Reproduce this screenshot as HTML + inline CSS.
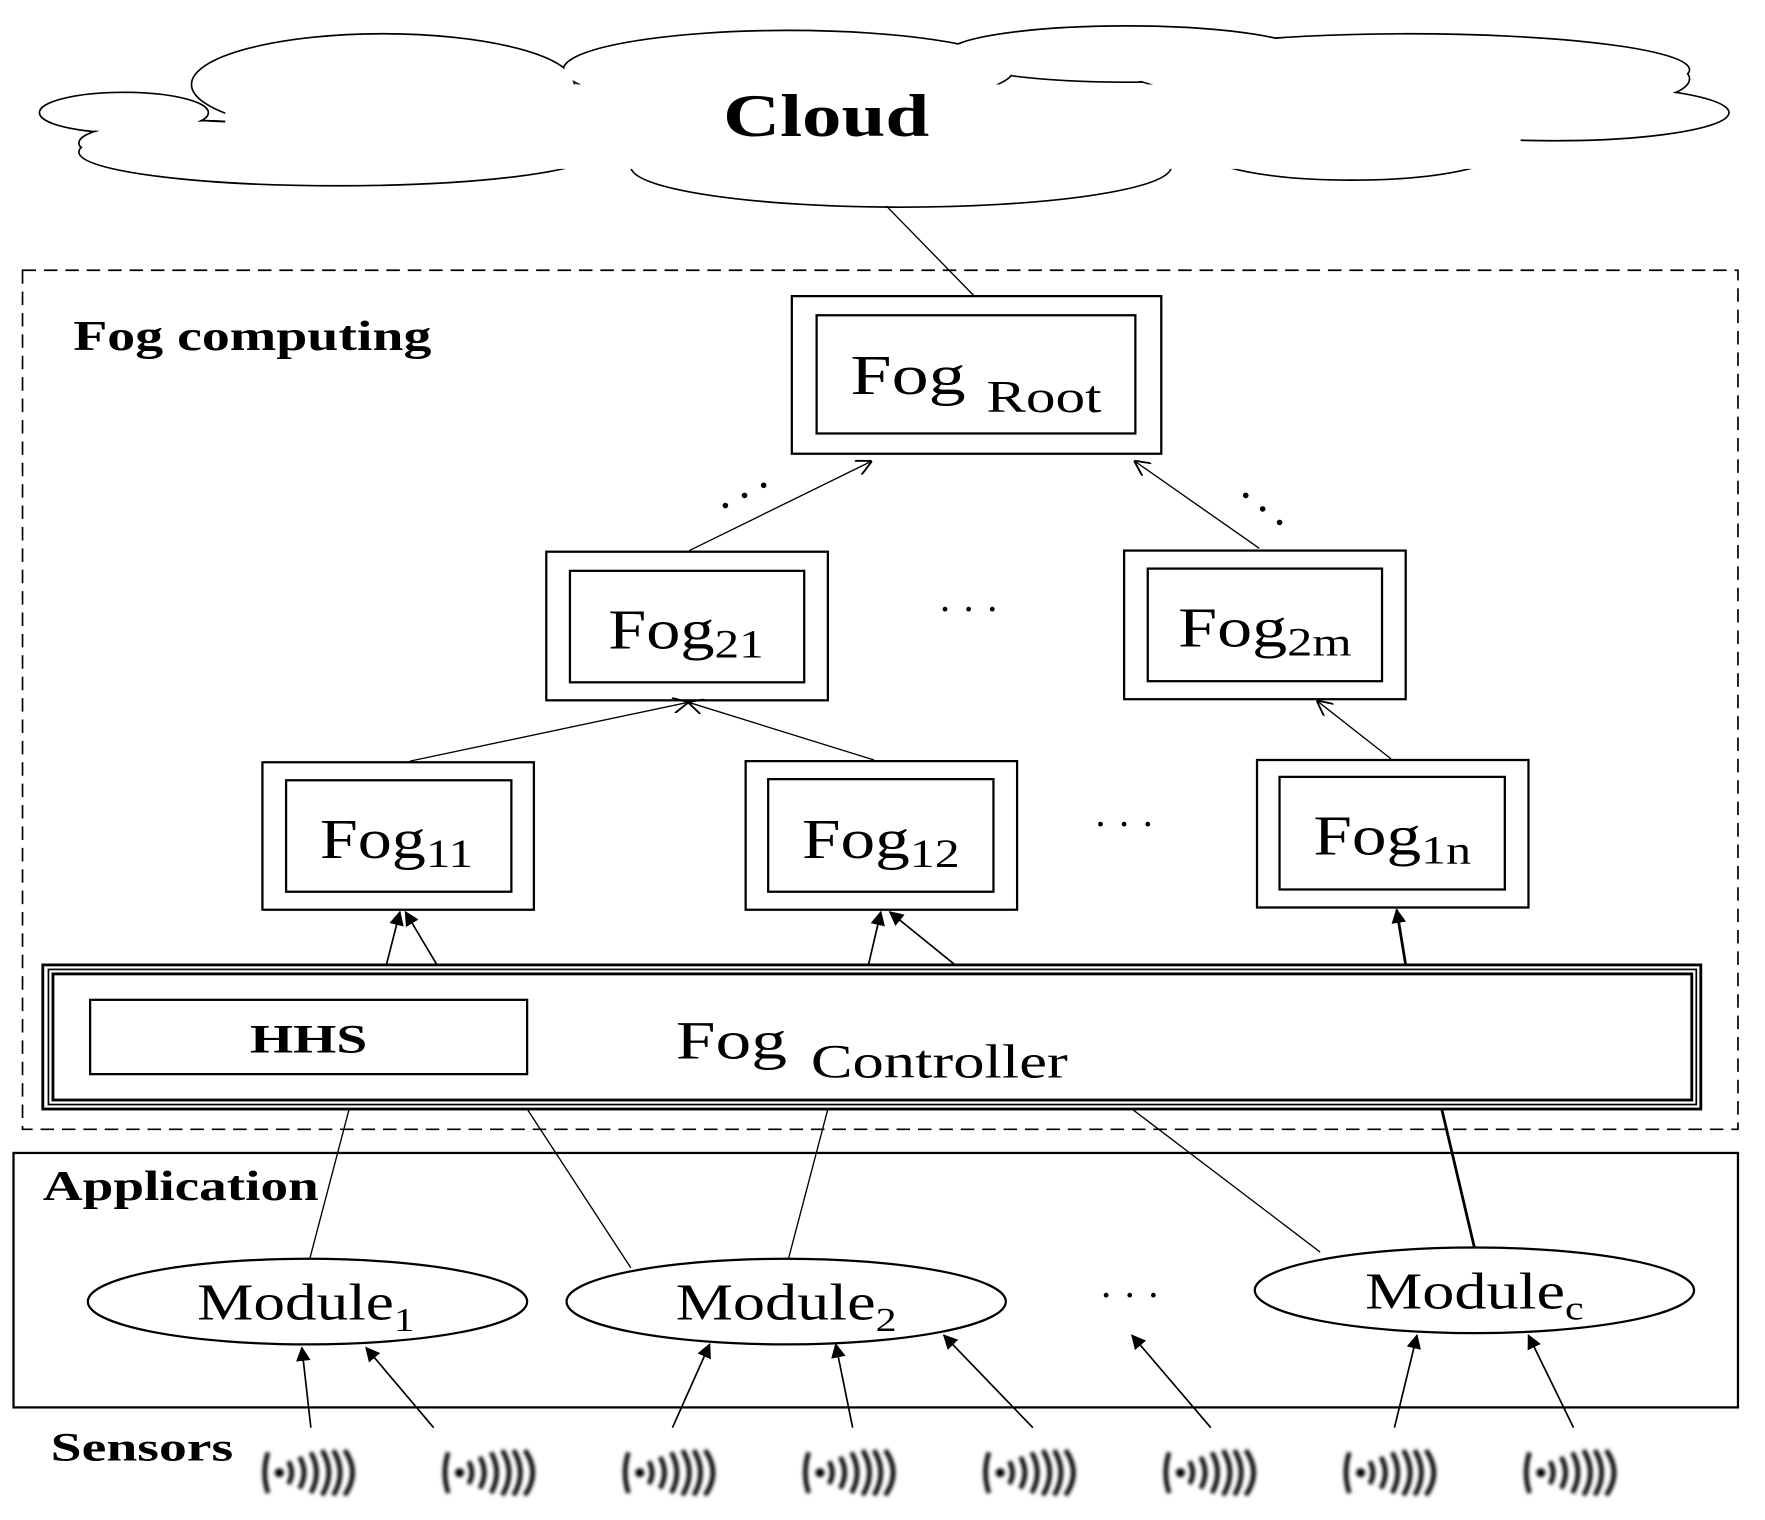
<!DOCTYPE html>
<html><head><meta charset="utf-8"><style>
html,body{margin:0;padding:0;background:#fff;}
svg{display:block;}
text{font-family:"Liberation Serif",serif;fill:#000;}
</style></head><body>
<svg width="1765" height="1520" viewBox="0 0 1567 1350" preserveAspectRatio="none" xmlns="http://www.w3.org/2000/svg">
<defs>
<marker id="a" viewBox="0 0 10 10" refX="9" refY="5" markerWidth="14" markerHeight="14" markerUnits="userSpaceOnUse" orient="auto"><path d="M0,0 L10,5 L0,10" fill="none" stroke="#000" stroke-width="1.2"/></marker>
<marker id="f" viewBox="0 0 10 10" refX="9" refY="5" markerWidth="13" markerHeight="13" markerUnits="userSpaceOnUse" orient="auto"><path d="M0,0 L10,5 L0,10 z" fill="#000"/></marker>
<filter id="bl"><feGaussianBlur stdDeviation="1.6"/></filter>
</defs>
<!-- cloud -->
<g stroke="#000" stroke-width="1.5" fill="none">
<ellipse cx="110" cy="100" rx="75" ry="18"/><ellipse cx="340" cy="75" rx="170" ry="45"/><ellipse cx="700" cy="62" rx="200" ry="35"/><ellipse cx="1000" cy="48" rx="160" ry="25"/><ellipse cx="1250" cy="62" rx="250" ry="32"/><ellipse cx="1380" cy="100" rx="155" ry="25"/><ellipse cx="1200" cy="135" rx="130" ry="25"/><ellipse cx="800" cy="148" rx="240" ry="36"/><ellipse cx="300" cy="135" rx="230" ry="30"/><ellipse cx="170" cy="127" rx="100" ry="20"/><ellipse cx="1440" cy="70" rx="60" ry="20"/>
</g>
<g fill="#fff">
<ellipse cx="110" cy="100" rx="74" ry="17"/><ellipse cx="340" cy="75" rx="169" ry="44"/><ellipse cx="700" cy="62" rx="199" ry="34"/><ellipse cx="1000" cy="48" rx="159" ry="24"/><ellipse cx="1250" cy="62" rx="249" ry="31"/><ellipse cx="1380" cy="100" rx="154" ry="24"/><ellipse cx="1200" cy="135" rx="129" ry="24"/><ellipse cx="800" cy="148" rx="239" ry="35"/><ellipse cx="300" cy="135" rx="229" ry="29"/><ellipse cx="170" cy="127" rx="99" ry="19"/><ellipse cx="1440" cy="70" rx="59" ry="19"/>
<rect x="200" y="75" width="1150" height="75"/>
</g>
<text x="642" y="121" font-size="54" font-weight="bold" textLength="183" lengthAdjust="spacingAndGlyphs">Cloud</text>
<line x1="787" y1="183" x2="865" y2="263" stroke="#000" stroke-width="1.2"/>
<!-- fog computing -->
<rect x="20" y="240" width="1523" height="763" fill="none" stroke="#000" stroke-width="1.5" stroke-dasharray="12,7"/>
<text x="65" y="311" font-size="38" font-weight="bold" textLength="318" lengthAdjust="spacingAndGlyphs">Fog computing</text>
<g fill="none" stroke="#000" stroke-width="2">
<rect x="703" y="263" width="328" height="140"/><rect x="725" y="280" width="283" height="105"/>
<rect x="485" y="490" width="250" height="132"/><rect x="506" y="507" width="208" height="99"/>
<rect x="998" y="489" width="250" height="132"/><rect x="1019" y="505" width="208" height="100"/>
<rect x="233" y="677" width="241" height="131"/><rect x="254" y="693" width="200" height="99"/>
<rect x="662" y="676" width="241" height="132"/><rect x="682" y="692" width="200" height="100"/>
<rect x="1116" y="675" width="241" height="131"/><rect x="1136" y="690" width="200" height="100"/>
<rect x="38" y="857" width="1472" height="128" stroke-width="2.5"/><rect x="43" y="861" width="1463" height="120" stroke-width="1.5"/><rect x="47" y="865" width="1455" height="112" stroke-width="2.5"/>
<rect x="80" y="888" width="388" height="66"/>
</g>
<text x="755" y="350" font-size="50" textLength="223" lengthAdjust="spacingAndGlyphs">Fog<tspan font-size="40" dx="14" dy="16">Root</tspan></text>
<text x="540" y="576" font-size="50" textLength="138" lengthAdjust="spacingAndGlyphs">Fog<tspan font-size="36" dy="8">21</tspan></text>
<text x="1046" y="574" font-size="50" textLength="154" lengthAdjust="spacingAndGlyphs">Fog<tspan font-size="36" dy="8">2m</tspan></text>
<text x="284" y="762" font-size="50" textLength="136" lengthAdjust="spacingAndGlyphs">Fog<tspan font-size="36" dy="8">11</tspan></text>
<text x="712" y="762" font-size="50" textLength="140" lengthAdjust="spacingAndGlyphs">Fog<tspan font-size="36" dy="8">12</tspan></text>
<text x="1166" y="759" font-size="50" textLength="140" lengthAdjust="spacingAndGlyphs">Fog<tspan font-size="36" dy="8">1n</tspan></text>
<text x="222" y="935" font-size="36" font-weight="bold" textLength="104" lengthAdjust="spacingAndGlyphs">HHS</text>
<text x="600" y="940" font-size="48" textLength="348" lengthAdjust="spacingAndGlyphs">Fog<tspan font-size="42" dx="16" dy="17">Controller</tspan></text>
<g font-size="36" text-anchor="middle">
<text x="860" y="553">· · ·</text><text x="998" y="744">· · ·</text><text x="1003" y="1162">· · ·</text>
</g>
<g fill="#000"><circle cx="644" cy="449" r="2.5"/><circle cx="661" cy="440" r="2.5"/><circle cx="678" cy="431" r="2.5"/>
<circle cx="1106" cy="440" r="2.5"/><circle cx="1121" cy="452" r="2.5"/><circle cx="1136" cy="464" r="2.5"/></g>
<!-- arrows -->
<g stroke="#000" stroke-width="1.2" fill="none" marker-end="url(#a)">
<line x1="612" y1="489" x2="773" y2="410"/>
<line x1="1118" y1="487" x2="1008" y2="410"/>
<line x1="364" y1="676" x2="610" y2="624"/>
<line x1="776" y1="675" x2="612" y2="624"/>
<line x1="1235" y1="674" x2="1170" y2="623"/>
</g>
<g stroke="#000" stroke-width="1.5" fill="none" marker-end="url(#f)">
<line x1="343" y1="857" x2="355" y2="810"/><line x1="388" y1="857" x2="360" y2="810"/>
<line x1="771" y1="857" x2="782" y2="810"/><line x1="848" y1="857" x2="790" y2="810"/>
<line x1="1248" y1="857" x2="1240" y2="808" stroke-width="2.5"/>
</g>
<!-- application -->
<rect x="12" y="1024" width="1531" height="226" fill="none" stroke="#000" stroke-width="2"/>
<text x="38" y="1066" font-size="38" font-weight="bold" textLength="245" lengthAdjust="spacingAndGlyphs">Application</text>
<g stroke="#000" stroke-width="1.2">
<line x1="310" y1="985" x2="275" y2="1118"/>
<line x1="468" y1="985" x2="560" y2="1126"/>
<line x1="735" y1="985" x2="700" y2="1118"/>
<line x1="1005" y1="985" x2="1172" y2="1112"/>
<line x1="1280" y1="985" x2="1309" y2="1108" stroke-width="2.5"/>
</g>
<g fill="#fff" stroke="#000" stroke-width="2">
<ellipse cx="273" cy="1156" rx="195" ry="38"/><ellipse cx="698" cy="1156" rx="195" ry="38"/><ellipse cx="1309" cy="1146" rx="195" ry="38"/>
</g>
<text x="175" y="1172" font-size="46" textLength="193" lengthAdjust="spacingAndGlyphs">Module<tspan font-size="30" dy="10">1</tspan></text>
<text x="600" y="1172" font-size="46" textLength="196" lengthAdjust="spacingAndGlyphs">Module<tspan font-size="30" dy="10">2</tspan></text>
<text x="1212" y="1162" font-size="46" textLength="194" lengthAdjust="spacingAndGlyphs">Module<tspan font-size="30" dy="10">c</tspan></text>
<g stroke="#000" stroke-width="1.5" fill="none" marker-end="url(#f)">
<line x1="276" y1="1268" x2="268" y2="1197"/><line x1="385" y1="1268" x2="325" y2="1197"/>
<line x1="597" y1="1268" x2="630" y2="1194"/><line x1="757" y1="1268" x2="742" y2="1194"/>
<line x1="917" y1="1268" x2="838" y2="1186"/><line x1="1075" y1="1268" x2="1005" y2="1186"/>
<line x1="1238" y1="1268" x2="1258" y2="1186"/><line x1="1397" y1="1268" x2="1357" y2="1186"/>
</g>
<text x="45" y="1297" font-size="36" font-weight="bold" textLength="162" lengthAdjust="spacingAndGlyphs">Sensors</text>
<g filter="url(#bl)" stroke="#000" stroke-width="4" fill="none">
<g id="s"><path d="M238,1290 q-6,18 0,36"/><circle cx="248" cy="1308" r="2" fill="#000"/><path d="M256,1298 q6,10 0,20 M266,1294 q8,14 0,28 M276,1290 q10,18 0,36 M286,1288 q12,20 0,40 M296,1288 q12,20 0,40 M306,1288 q14,20 0,40"/></g>
<use href="#s" x="160"/><use href="#s" x="320"/><use href="#s" x="480"/><use href="#s" x="640"/><use href="#s" x="800"/><use href="#s" x="960"/><use href="#s" x="1120"/>
</g>
</svg>
</body></html>
